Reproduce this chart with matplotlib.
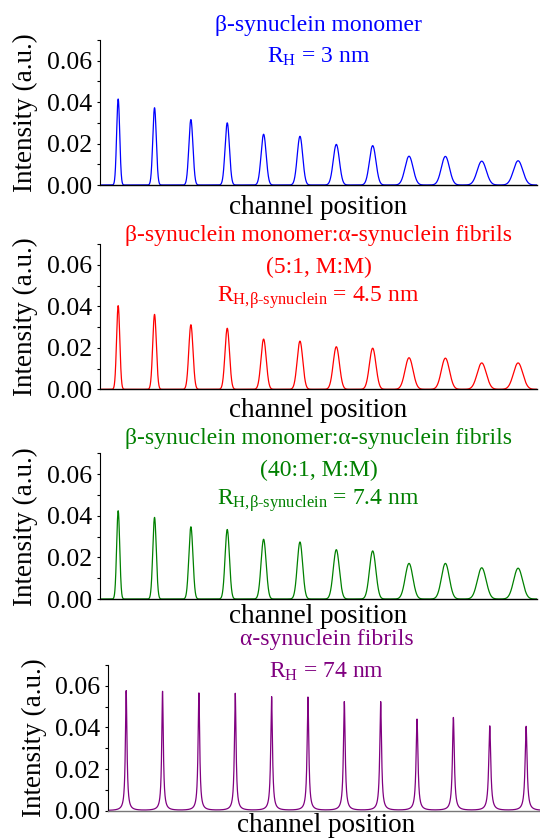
import numpy as np
import matplotlib
matplotlib.use("Agg")
import matplotlib.pyplot as plt
from matplotlib.ticker import MultipleLocator, FormatStrFormatter

plt.rcParams['font.family'] = ['Liberation Serif', 'DejaVu Serif']
plt.rcParams['mathtext.fontset'] = 'custom'
plt.rcParams['mathtext.rm'] = 'Liberation Serif'
plt.rcParams['mathtext.it'] = 'Liberation Serif:italic'
plt.rcParams['mathtext.bf'] = 'Liberation Serif:bold'

# ---------------- data ----------------
peak_positions = [50, 150, 250, 350, 450, 550, 650, 750, 850, 950, 1050, 1150]
x_max = 1202

beta_heights = [0.0415, 0.0373, 0.0316, 0.0300, 0.0245, 0.0235,
                0.0196, 0.0190, 0.0139, 0.0138, 0.0115, 0.0117]
beta_widths = [4.2, 4.8, 5.6, 6.0, 7.0, 7.5, 8.5, 9.0, 11.0, 11.2, 12.5, 12.8]

mix5_heights = [0.0403, 0.0361, 0.0311, 0.0294, 0.0242, 0.0232,
                0.0205, 0.0198, 0.0152, 0.0150, 0.0127, 0.0127]
mix5_widths = [4.4, 5.0, 5.8, 6.2, 7.2, 7.7, 8.6, 9.0, 11.0, 11.2, 12.5, 12.8]

mix40_heights = [0.0424, 0.0392, 0.0347, 0.0334, 0.0287, 0.0274,
                 0.0237, 0.0231, 0.0171, 0.0171, 0.0150, 0.0148]
mix40_widths = [4.2, 4.8, 5.6, 6.0, 7.0, 7.4, 8.4, 8.8, 10.5, 10.8, 12.0, 12.2]

fibril_heights = [0.0577, 0.0573, 0.0565, 0.0563, 0.0547, 0.0545,
                  0.0523, 0.0523, 0.0439, 0.0447, 0.0407, 0.0405]
fibril_widths = [2.6, 2.6, 2.7, 2.7, 2.8, 2.8, 2.9, 2.9, 3.1, 3.1, 3.3, 3.3]

y_ticks = [0.00, 0.02, 0.04, 0.06]

titles = [
    ['β-synuclein monomer', r'R$_{\mathregular{H}}$ = 3 nm'],
    ['β-synuclein monomer:α-synuclein fibrils', '(5:1, M:M)',
     r'R$_{\text{H,β-synuclein}}$ = 4.5 nm'],
    ['β-synuclein monomer:α-synuclein fibrils', '(40:1, M:M)',
     r'R$_{\text{H,β-synuclein}}$ = 7.4 nm'],
    ['α-synuclein fibrils', r'R$_{\mathregular{H}}$ = 74 nm'],
]

# ---------------- layout ----------------
W, H = 540, 839
fig = plt.figure(figsize=(W / 100, H / 100), dpi=100)

panels = [
    dict(h=beta_heights, w=beta_widths, shape='g', color='#0000ff',
         left=100, top=40, bottom=185, title_y=[30.7, 62.7], xl_y=214, yl_x=25,
         spine='black'),
    dict(h=mix5_heights, w=mix5_widths, shape='g', color='#ff0000',
         left=100, top=244, bottom=389.3, title_y=[241, 273.3, 301.7], xl_y=417, yl_x=25,
         spine='black'),
    dict(h=mix40_heights, w=mix40_widths, shape='g', color='#008000',
         left=100, top=453.3, bottom=599, title_y=[444, 476.5, 505], xl_y=623, yl_x=25,
         spine='black'),
    dict(h=fibril_heights, w=fibril_widths, shape='l', color='#800080',
         left=108, top=665, bottom=810.7, title_y=[645, 678], xl_y=832, yl_x=34,
         spine='#777777'),
]

axw = 437
x = np.linspace(0, x_max, 6000)

for p, ttl in zip(panels, titles):
    ax = fig.add_axes([p['left'] / W, 1 - p['bottom'] / H, axw / W,
                       (p['bottom'] - p['top']) / H])
    y = np.zeros_like(x)
    for c, a, s in zip(peak_positions, p['h'], p['w']):
        if p['shape'] == 'g':
            y += a * np.exp(-0.5 * ((x - c) / s) ** 2)
        else:
            y += a * s ** 2 / ((x - c) ** 2 + s ** 2)
    ax.plot(x, y, color=p['color'], lw=0.9)
    ax.set_xlim(0, x_max)
    ax.set_ylim(0, 0.07)
    ax.set_yticks(y_ticks)
    ax.yaxis.set_major_formatter(FormatStrFormatter('%.2f'))
    ax.yaxis.set_minor_locator(MultipleLocator(0.01))
    ax.set_xticks([])
    for sp in ['top', 'right']:
        ax.spines[sp].set_visible(False)
    ax.spines['left'].set_linewidth(0.8)
    ax.spines['bottom'].set_linewidth(1.0)
    ax.spines['bottom'].set_color(p['spine'])
    ax.tick_params(axis='y', which='both', direction='out', length=2.5, width=0.8,
                   labelsize=18.5, pad=3.5)
    ax.patch.set_alpha(0)

    cx = (p['left'] + axw / 2) / W
    for line, yb in zip(ttl, p['title_y']):
        fig.text(cx, 1 - yb / H, line, ha='center', va='baseline',
                 color=p['color'], fontsize=17)
    fig.text(cx, 1 - p['xl_y'] / H, 'channel position', ha='center',
             va='baseline', fontsize=19.5)
    fig.text(p['yl_x'] / W, 1 - (p['top'] + p['bottom']) / 2 / H,
             'Intensity (a.u.)', rotation=90, ha='center', va='center',
             fontsize=19.5)

fig.savefig('out.png', dpi=100)
